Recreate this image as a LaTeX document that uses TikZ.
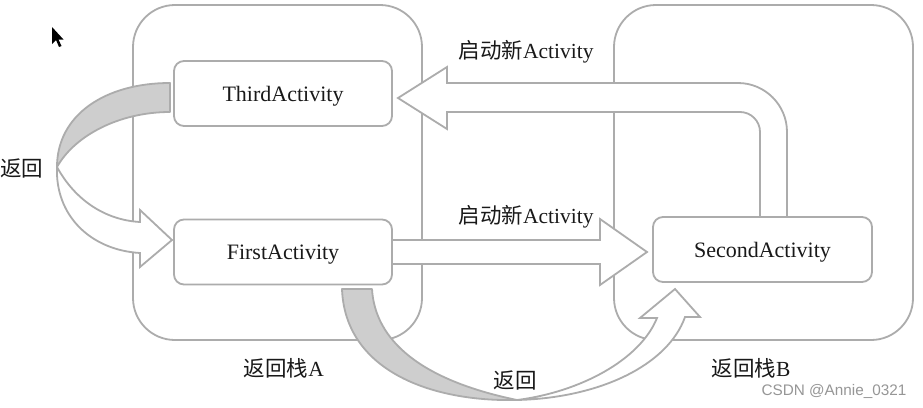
\documentclass[tikz,border=0pt]{standalone}
\usepackage{fontspec}
\setmainfont{Liberation Serif}
\newfontfamily\cjk{Noto Sans CJK SC}
\newfontfamily\wmfont{Liberation Sans}
\usetikzlibrary{calc}
\definecolor{edge}{RGB}{172,172,172}
\definecolor{band}{RGB}{206,206,206}
\definecolor{ink}{RGB}{25,25,25}
\definecolor{wm}{RGB}{150,150,150}
\begin{document}
\begin{tikzpicture}[x=1pt,y=-1pt,
  stack/.style={draw=edge,line width=1.8pt,rounded corners=42pt,inner sep=0pt},
  actbox/.style={draw=edge,line width=1.8pt,rounded corners=10pt,fill=white,
    minimum width=218pt,minimum height=65pt,inner sep=0pt,
    text height=17pt,text depth=2pt,
    font=\fontsize{22}{26}\selectfont,text=ink},
  blockarrow/.style={draw=edge,line width=1.8pt,fill=white,line join=miter},
  backband/.style={draw=edge,line width=1.8pt,fill=band,line join=round},
  lbl/.style={font=\fontsize{21.5}{25}\selectfont,text=ink,inner sep=0pt}
]
\useasboundingbox[fill=white] (0,0) rectangle (923,407);

% stacks
\node[stack,minimum width=289pt,minimum height=335pt] (stackA) at (277.5,172.5) {};
\node[stack,minimum width=299pt,minimum height=335pt] (stackB) at (763.5,172.5) {};

% activity node centres (for the arrows)
\coordinate (thirdc) at (283,93.5);
\coordinate (firstc) at (283,252);
\coordinate (secondc) at (762.5,249.5);

% arrow first -> second (straight)
\draw[blockarrow] ($(firstc)+(109,-12)$) -- (600,240) -- (600,219) -- (647,252)
  -- (600,285) -- (600,264) -- ($(firstc)+(109,12)$) -- cycle;

% arrow second -> third (bent)
\draw[blockarrow] (787,217) -- (787,132) .. controls (787,105) and (765,83) .. (738,83)
  -- (447,83) -- (447,67) -- (398,98) -- (447,129) -- (447,112) -- (740,112)
  .. controls (751,112) and (760,121) .. (760,132) -- (760,217) -- cycle;

% left return arrow third -> first
\draw[backband] (170,83) .. controls (105,83) and (57,115) .. (57,167)
  .. controls (75,135) and (120,112) .. (170,112) -- cycle;
\draw[blockarrow] (57,167) .. controls (75,200) and (105,220) .. (140,222)
  -- (140,210) -- (172,240) -- (140,267) -- (140,253)
  .. controls (90,250) and (55,215) .. (57,167) -- cycle;

% bottom return arrow first -> second
\draw[backband] (342,289) -- (372,289) .. controls (375,340) and (420,380) .. (517,400)
  .. controls (430,402) and (345,370) .. (342,289) -- cycle;
\draw[blockarrow] (517,400) .. controls (580,392) and (640,360) .. (657,318)
  -- (640,318) -- (675,289) -- (700,317) -- (685,317)
  .. controls (668,365) and (600,398) .. (517,400) -- cycle;

% activity boxes
\node[actbox] (third) at (thirdc) {ThirdActivity};
\node[actbox] (first) at (firstc) {FirstActivity};
\node[actbox,minimum width=219pt] (second) at (secondc) {SecondActivity};

% labels
\node[lbl] (lstart1) at (526,52) {{\cjk 启动新}Activity};
\node[lbl] (lstart2) at (526,217) {{\cjk 启动新}Activity};
\node[lbl] (lback1) at (22,168) {{\cjk 返回}};
\node[lbl] (lback2) at (515,380) {{\cjk 返回}};
\node[lbl] (lstackA) at (284,368) {{\cjk 返回栈}A};
\node[lbl] (lstackB) at (751,368) {{\cjk 返回栈}B};
\node[inner sep=0pt,text=wm,font=\wmfont\fontsize{15.3}{17}\selectfont] (wmark) at (834,391) {CSDN @Annie\_0321};

% mouse pointer
\fill[black] (52,27) -- (52,44) -- (56,40) -- (59,47) -- (61.5,46) -- (58.5,39.5) -- (63.5,39.5) -- cycle;
\end{tikzpicture}
\end{document}
